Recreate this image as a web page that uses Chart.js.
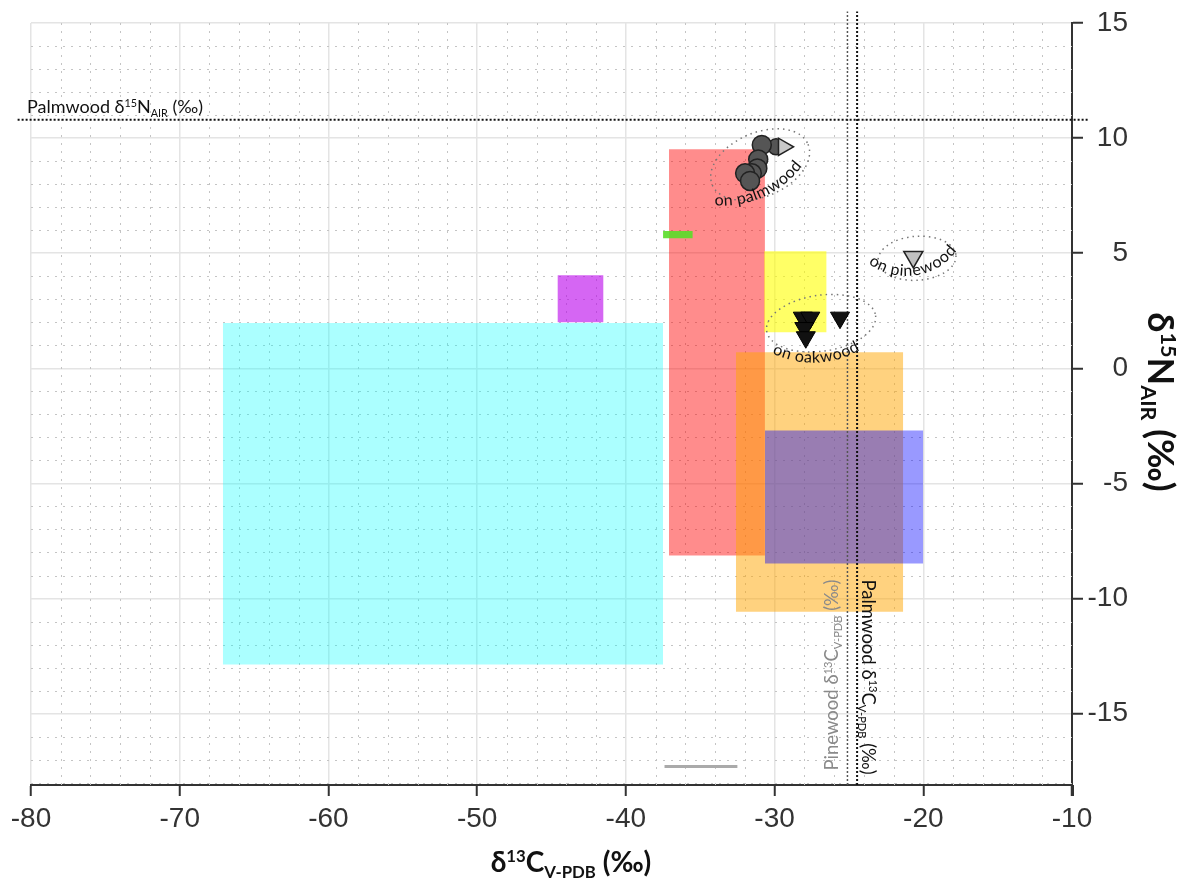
<!DOCTYPE html>
<html>
<head>
<meta charset="utf-8">
<script src="https://cdn.jsdelivr.net/npm/chart.js@4.4.1/dist/chart.umd.min.js"></script>
<style>
  html, body { margin: 0; padding: 0; background: #fff; }
  #wrap { width: 1193px; height: 888px; }
</style>
</head>
<body>
<div id="wrap"><canvas id="myChart" width="1193" height="888"></canvas></div>
<script>
// axis ticks
const xTicks = [-80, -70, -60, -50, -40, -30, -20, -10];
const yTicks = [-15, -10, -5, 0, 5, 10, 15];

// literature ranges (boxes), delta13C x delta15N
const rangeNames = ['range 1', 'range 2', 'range 3', 'range 4', 'range 5', 'range 6', 'range 7'];
const rangeXMin = [-67.1, -44.6, -37.1, -37.5, -30.7, -32.6, -30.65];
const rangeXMax = [-37.5, -41.5, -30.65, -35.5, -26.5, -21.35, -20.0];
const rangeYMin = [-12.87, 2.0, -8.13, 5.65, 1.57, -10.57, -8.48];
const rangeYMax = [1.97, 4.04, 9.52, 5.96, 5.09, 0.70, -2.70];

// grey range without delta15N
const greyRangeX = [-37.4, -32.5];
const greyRangeY = -17.3;

// samples
const palmX = [-30.86, -31.1, -31.16, -31.53, -31.98, -31.65];
const palmY = [9.70, 9.07, 8.68, 8.47, 8.47, 8.14];
const palmMixX = [-29.9];
const palmMixY = [9.62];
const palmTriX = [-29.4];
const palmTriY = [9.62];
const oakX = [-28.1, -27.6, -28.0, -27.9, -25.6];
const oakY = [2.2, 2.2, 1.75, 1.35, 2.2];
const pineX = [-20.67];
const pineY = [4.84];

// wood reference values
const palmwoodN = 10.8;
const palmwoodC = -24.45;
const pinewoodC = -25.1;

const rangeColors = ['rgba(0,255,255,0.33)', 'rgba(185,0,235,0.6)', 'rgba(255,0,0,0.45)',
  'rgba(90,220,40,0.9)', 'rgba(255,255,0,0.6)', 'rgba(255,165,0,0.5)', 'rgba(0,0,255,0.4)'];
const rangeOrder = [20, 19, 18, 17, 16, 15, 14];

const pts = (xs, ys) => xs.map((x, i) => ({ x: x, y: ys[i] }));

const datasets = [];
rangeNames.forEach((name, i) => {
  datasets.push({
    label: name,
    data: [{ x: rangeXMin[i], y: rangeYMax[i] }, { x: rangeXMax[i], y: rangeYMax[i] }],
    showLine: true, borderWidth: 0, pointRadius: 0, tension: 0,
    backgroundColor: rangeColors[i], borderColor: 'rgba(0,0,0,0)',
    fill: { target: { value: rangeYMin[i] } },
    order: rangeOrder[i]
  });
});
datasets.push({
  label: 'grey range',
  data: [{ x: greyRangeX[0], y: greyRangeY }, { x: greyRangeX[1], y: greyRangeY }],
  showLine: true, borderWidth: 3, borderColor: '#aaaaaa', pointRadius: 0, order: 13
});
datasets.push({
  label: 'Palmwood d15N',
  data: [{ x: -80.9, y: palmwoodN }, { x: -8.9, y: palmwoodN }],
  showLine: true, borderWidth: 2, borderColor: '#111', borderDash: [2, 2], pointRadius: 0, clip: false, order: 5
});
datasets.push({
  label: 'Pinewood d13C',
  data: [{ x: pinewoodC, y: -18.1 }, { x: pinewoodC, y: 15.5 }],
  showLine: true, borderWidth: 1.5, borderColor: '#555', borderDash: [2, 2], pointRadius: 0, clip: false, order: 5
});
datasets.push({
  label: 'Palmwood d13C',
  data: [{ x: palmwoodC, y: -18.1 }, { x: palmwoodC, y: 15.5 }],
  showLine: true, borderWidth: 2, borderColor: '#111', borderDash: [2, 2], pointRadius: 0, clip: false, order: 5
});
datasets.push({
  label: 'on palmwood', data: pts(palmX, palmY),
  pointStyle: 'circle', pointRadius: 9.5, backgroundColor: '#555', borderColor: '#222', borderWidth: 1.5, order: 2
});
datasets.push({
  label: 'on palmwood mix', data: pts(palmMixX, palmMixY),
  pointStyle: 'circle', pointRadius: 8, backgroundColor: '#555', borderColor: '#222', borderWidth: 1.5, order: 2
});
datasets.push({
  label: 'on palmwood mix tri', data: pts(palmTriX, palmTriY),
  pointStyle: 'triangle', rotation: 90, pointRadius: 10, backgroundColor: '#c8c8c8', borderColor: '#222', borderWidth: 1.5, order: 1
});
datasets.push({
  label: 'on oakwood', data: pts(oakX, oakY),
  pointStyle: 'triangle', rotation: 180, pointRadius: 11, backgroundColor: '#111', borderColor: '#000', borderWidth: 1, order: 1
});
datasets.push({
  label: 'on pinewood', data: pts(pineX, pineY),
  pointStyle: 'triangle', rotation: 180, pointRadius: 11, backgroundColor: '#c0c0c0', borderColor: '#222', borderWidth: 1.5, order: 1
});

// annotation ellipses and curved labels (centre in data units)
const groupEllipses = [
  { x: -30.97, y: 8.85, rx: 52, ry: 32, rot: -23 },
  { x: -20.42, y: 4.78, rx: 39, ry: 22, rot: -4 },
  { x: -26.87, y: 1.96, rx: 55, ry: 28, rot: -8 }
];
const groupLabels = [
  { text: 'on palmwood', x: -30.9, y: 7.65, R: 95, rot: -24 },
  { text: 'on pinewood', x: -20.6, y: 4.26, R: 58, rot: -8 },
  { text: 'on oakwood', x: -27.2, y: 0.47, R: 88, rot: -2 }
];

const serif = 'Lato, "Open Sans", sans-serif';

function partFont(p, size, weight) {
  const s = p.s ? size * 0.6 : size;
  return weight + ' ' + s + 'px ' + serif;
}
function drawRich(ctx, parts, x, y, size, weight, align) {
  let w = 0;
  parts.forEach(p => { ctx.font = partFont(p, size, weight); w += ctx.measureText(p.t).width; });
  let cx = align === 'center' ? x - w / 2 : x;
  ctx.textAlign = 'left';
  ctx.textBaseline = 'alphabetic';
  parts.forEach(p => {
    ctx.font = partFont(p, size, weight);
    const dy = p.s === 'sup' ? -size * 0.36 : (p.s === 'sub' ? size * 0.2 : 0);
    ctx.fillText(p.t, cx, y + dy);
    cx += ctx.measureText(p.t).width;
  });
}
function arcText(ctx, text, x, y, R, rot, font) {
  ctx.save();
  ctx.translate(x, y);
  ctx.rotate(rot * Math.PI / 180);
  ctx.font = font;
  ctx.textAlign = 'center';
  ctx.textBaseline = 'middle';
  const W = ctx.measureText(text).width;
  let d = 0;
  for (const ch of text) {
    const cw = ctx.measureText(ch).width;
    const th = (d + cw / 2 - W / 2) / R;
    ctx.save();
    ctx.translate(R * Math.sin(th), -R + R * Math.cos(th));
    ctx.rotate(-th);
    ctx.fillText(ch, 0, 0);
    ctx.restore();
    d += cw;
  }
  ctx.restore();
}

const minorGrid = {
  id: 'minorGrid',
  beforeDatasetsDraw(chart) {
    const { ctx, chartArea: a, scales: { x, y } } = chart;
    ctx.save();
    ctx.strokeStyle = '#c4c4c4';
    ctx.lineWidth = 1;
    ctx.setLineDash([2, 6]);
    for (let v = -78; v < -10; v += 2) {
      if (v % 10 === 0) continue;
      const px = Math.round(x.getPixelForValue(v)) + 0.5;
      ctx.beginPath(); ctx.moveTo(px, a.top); ctx.lineTo(px, a.bottom); ctx.stroke();
    }
    for (let v = -18; v < 15; v += 1) {
      if (v % 5 === 0) continue;
      const py = Math.round(y.getPixelForValue(v)) + 0.5;
      ctx.beginPath(); ctx.moveTo(a.left, py); ctx.lineTo(a.right, py); ctx.stroke();
    }
    ctx.restore();
  }
};

const labels = {
  id: 'labels',
  afterDatasetsDraw(chart) {
    const { ctx, chartArea: a, scales: { x, y } } = chart;
    ctx.save();
    // y axis runs a little past the x axis
    ctx.strokeStyle = '#333';
    ctx.lineWidth = 2;
    ctx.beginPath(); ctx.moveTo(a.right + 1, a.bottom); ctx.lineTo(a.right + 1, a.bottom + 11); ctx.stroke();

    // ellipses
    ctx.strokeStyle = '#777';
    ctx.lineWidth = 1.5;
    ctx.setLineDash([1.5, 4]);
    groupEllipses.forEach(e => {
      ctx.beginPath();
      ctx.ellipse(x.getPixelForValue(e.x), y.getPixelForValue(e.y), e.rx, e.ry, e.rot * Math.PI / 180, 0, Math.PI * 2);
      ctx.stroke();
    });
    ctx.setLineDash([]);
    ctx.fillStyle = '#111';
    groupLabels.forEach(l => {
      arcText(ctx, l.text, x.getPixelForValue(l.x), y.getPixelForValue(l.y), l.R, l.rot, '16px ' + serif);
    });

    // reference line labels
    ctx.fillStyle = '#111';
    drawRich(ctx, [{ t: 'Palmwood δ' }, { t: '15', s: 'sup' }, { t: 'N' }, { t: 'AIR', s: 'sub' }, { t: ' (‰)' }],
      27, 113, 18, 'normal', 'left');

    ctx.save();
    ctx.translate(x.getPixelForValue(pinewoodC) - 15, 675);
    ctx.rotate(-Math.PI / 2);
    ctx.fillStyle = '#8a8a8a';
    drawRich(ctx, [{ t: 'Pinewood δ' }, { t: '13', s: 'sup' }, { t: 'C' }, { t: 'V-PDB', s: 'sub' }, { t: ' (‰)' }],
      0, 6, 18.5, 'normal', 'center');
    ctx.restore();

    ctx.save();
    ctx.translate(x.getPixelForValue(palmwoodC) + 11, 677);
    ctx.rotate(Math.PI / 2);
    ctx.fillStyle = '#111';
    drawRich(ctx, [{ t: 'Palmwood δ' }, { t: '13', s: 'sup' }, { t: 'C' }, { t: 'V-PDB', s: 'sub' }, { t: ' (‰)' }],
      0, 6, 18.5, 'normal', 'center');
    ctx.restore();

    // axis titles
    ctx.fillStyle = '#111';
    drawRich(ctx, [{ t: 'δ' }, { t: '13', s: 'sup' }, { t: 'C' }, { t: 'V-PDB', s: 'sub' }, { t: ' (‰)' }],
      571, 872, 28, 'bold', 'center');

    ctx.save();
    ctx.translate(1160, 402);
    ctx.rotate(Math.PI / 2);
    drawRich(ctx, [{ t: 'δ' }, { t: '15', s: 'sup' }, { t: 'N' }, { t: 'AIR', s: 'sub' }, { t: ' (‰)' }],
      0, 12, 36, 'bold', 'center');
    ctx.restore();

    ctx.restore();
  }
};

const tickFont = { family: '"Liberation Sans", Arial, sans-serif', size: 28 };

const config = {
  type: 'scatter',
  data: { datasets: datasets },
  options: {
    responsive: false,
    animation: false,
    devicePixelRatio: 1,
    layout: { padding: { left: 31, top: 23, right: 65, bottom: 0 } },
    plugins: { legend: { display: false }, tooltip: { enabled: false } },
    scales: {
      x: {
        type: 'linear', min: -80, max: -10,
        afterBuildTicks: s => { s.ticks = xTicks.map(v => ({ value: v })); },
        afterFit: s => { s.height = 103; },
        grid: { color: '#e4e4e4', lineWidth: 1.5, tickColor: '#333', tickLength: 11, tickWidth: 2 },
        border: { color: '#333', width: 2 },
        ticks: { font: tickFont, color: '#333', padding: 6, maxRotation: 0, autoSkip: false }
      },
      y: {
        type: 'linear', position: 'right', min: -18.1, max: 15,
        afterBuildTicks: s => { s.ticks = yTicks.map(v => ({ value: v })); },
        afterFit: s => { s.width = 56; },
        grid: { color: '#e4e4e4', lineWidth: 1.5, tickColor: '#333', tickLength: 11, tickWidth: 2 },
        border: { color: '#333', width: 2 },
        ticks: { font: tickFont, color: '#333', padding: 5, crossAlign: 'far', autoSkip: false }
      }
    }
  },
  plugins: [minorGrid, labels]
};

const myChart = new Chart(document.getElementById('myChart'), config);
</script>
</body>
</html>
